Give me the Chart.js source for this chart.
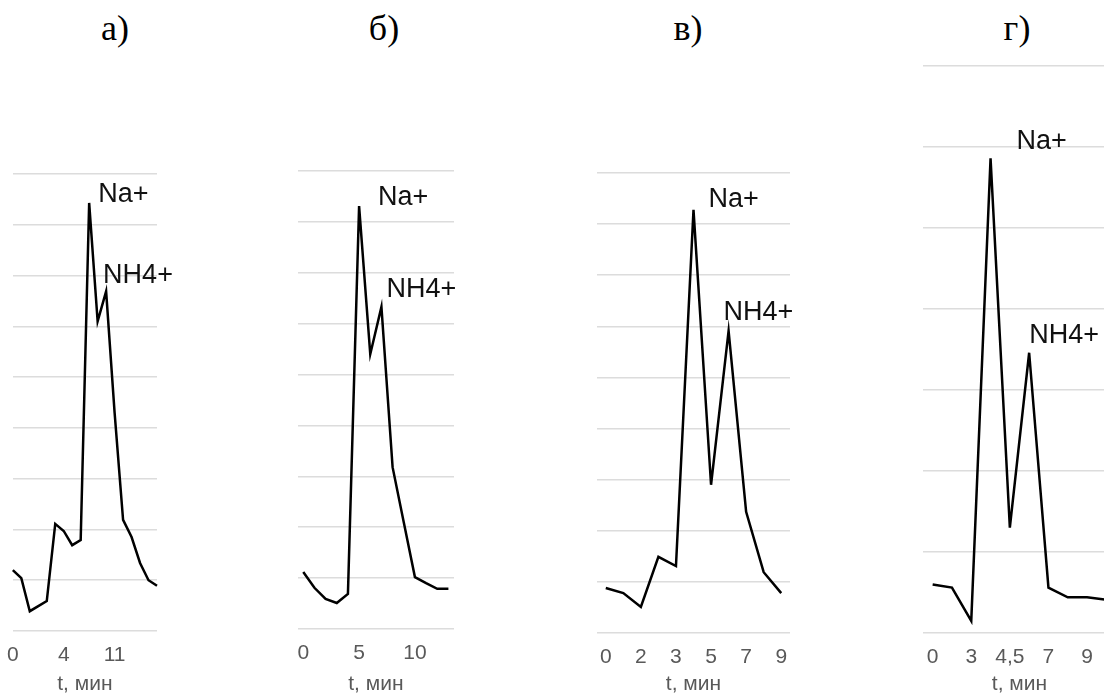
<!DOCTYPE html>
<html>
<head>
<meta charset="utf-8">
<script src="https://cdn.jsdelivr.net/npm/chart.js@4.4.0/dist/chart.umd.min.js"></script>
<style>
  html, body { margin: 0; padding: 0; width: 1104px; height: 697px; overflow: hidden; background: #fff; }
  .panel { position: absolute; }
  .ttl {
    position: absolute;
    font-family: "Liberation Serif", "Times New Roman", serif;
    font-size: 36px;
    color: #000;
    transform: translate(-50%, -50%);
    white-space: nowrap;
  }
</style>
</head>
<body>

<div class="ttl" style="left:115px;top:28px">а)</div>
<div class="ttl" style="left:384px;top:28px">б)</div>
<div class="ttl" style="left:688px;top:28px">в)</div>
<div class="ttl" style="left:1017px;top:28px">г)</div>

<canvas id="chA" class="panel"></canvas>
<canvas id="chB" class="panel"></canvas>
<canvas id="chC" class="panel"></canvas>
<canvas id="chD" class="panel"></canvas>

<script>
// data (signal in grid units)
const aLabels = ['0', '', '', '', '', '', '4', '', '', '', '', '', '11', '', '', '', '', ''];
const aValues = [1.20, 1.04, 0.39, 0.49, 0.59, 2.11, 1.97, 1.69, 1.79, 8.43, 6.10, 6.69, 4.30, 2.19, 1.85, 1.34, 1.00, 0.89];

const bLabels = ['0', '', '', '', '', '5', '', '', '', '', '10', '', '', ''];
const bValues = [1.12, 0.81, 0.59, 0.51, 0.69, 8.31, 5.40, 6.33, 3.18, 2.10, 1.02, 0.90, 0.79, 0.79];

const cLabels = ['0', '', '2', '', '3', '', '5', '', '7', '', '9'];
const cValues = [0.88, 0.78, 0.51, 1.49, 1.31, 8.28, 2.90, 5.91, 2.37, 1.19, 0.78];

const dLabels = ['0', '', '3', '', '4,5', '', '7', '', '9', ''];
const dValues = [0.60, 0.56, 0.15, 5.86, 1.30, 3.46, 0.56, 0.44, 0.44, 0.41];

// which point each peak name belongs to
const aPeaks = [9, 11];
const bPeaks = [5, 7];
const cPeaks = [5, 7];
const dPeaks = [3, 5];
const peakNames = ['Na+', 'NH4+'];

const PAD_L = 12, PAD_R = 50, PAD_T = 6;
const SANS = '"Liberation Sans", Arial, sans-serif';

// draws the peak names next to their points
const peakLabels = {
  id: 'peakLabels',
  afterDatasetsDraw(chart, args, opts) {
    const ctx = chart.ctx;
    const pts = chart.getDatasetMeta(0).data;
    ctx.save();
    ctx.font = '27px ' + SANS;
    ctx.fillStyle = '#111';
    ctx.textAlign = 'left';
    ctx.textBaseline = 'alphabetic';
    opts.items.forEach(it => {
      const p = pts[it.index];
      ctx.fillText(it.text, p.x + it.dx, p.y + it.dy);
    });
    ctx.restore();
  }
};

function makeChart(id, labels, values, peaks, offs, box) {
  const cv = document.getElementById(id);
  const extra = box.extraL || 0;   // room the first tick label takes when offset is off
  const w = PAD_L + extra + box.w + PAD_R;
  const top = box.top - PAD_T;
  const h = 697 - top;
  cv.width = w;
  cv.height = h;
  cv.style.left = (box.left - PAD_L - extra) + 'px';
  cv.style.top = top + 'px';
  cv.style.width = w + 'px';
  cv.style.height = h + 'px';

  return new Chart(cv, {
    type: 'line',
    data: {
      labels: labels,
      datasets: [{
        data: values,
        borderColor: '#000',
        borderWidth: 2.5,
        pointRadius: 0,
        tension: 0,
        fill: false
      }]
    },
    options: {
      responsive: false,
      animation: false,
      layout: { padding: { left: PAD_L, right: PAD_R, top: PAD_T, bottom: 0 } },
      plugins: {
        legend: { display: false },
        tooltip: { enabled: false },
        peakLabels: {
          items: peaks.map((idx, i) => ({ text: peakNames[i], index: idx, dx: offs[i][0], dy: offs[i][1] }))
        }
      },
      scales: {
        x: {
          offset: box.offset,
          grid: { display: false, drawTicks: false },
          border: { display: false },
          ticks: {
            autoSkip: false,
            maxRotation: 0,
            padding: 12,
            color: '#595959',
            font: { family: SANS, size: 21 }
          },
          title: {
            display: true,
            text: 't, мин',
            color: '#595959',
            padding: { top: 0, bottom: 0 },
            font: { family: SANS, size: 21 }
          },
          afterFit(scale) { scale.height = box.axisH; }
        },
        y: {
          min: 0,
          max: box.max,
          ticks: { display: false, stepSize: 1 },
          grid: { color: '#dcdcdc', lineWidth: 1.5, drawTicks: false },
          border: { display: false }
        }
      }
    },
    plugins: [peakLabels]
  });
}

makeChart('chA', aLabels, aValues, aPeaks, [[9, -1], [-3, -8]],
  { left: 13, w: 144, top: 174, axisH: 66, max: 9, offset: false, extraL: 6 });
makeChart('chB', bLabels, bValues, bPeaks, [[19, -1], [5, -10]],
  { left: 297, w: 157, top: 171, axisH: 68, max: 9, offset: true });
makeChart('chC', cLabels, cValues, cPeaks, [[15, -3], [-5, -11]],
  { left: 597, w: 193, top: 173, axisH: 64, max: 9, offset: true });
makeChart('chD', dLabels, dValues, dPeaks, [[26, -9], [0, -10]],
  { left: 923, w: 193, top: 66, axisH: 64, max: 7, offset: true });
</script>
</body>
</html>
